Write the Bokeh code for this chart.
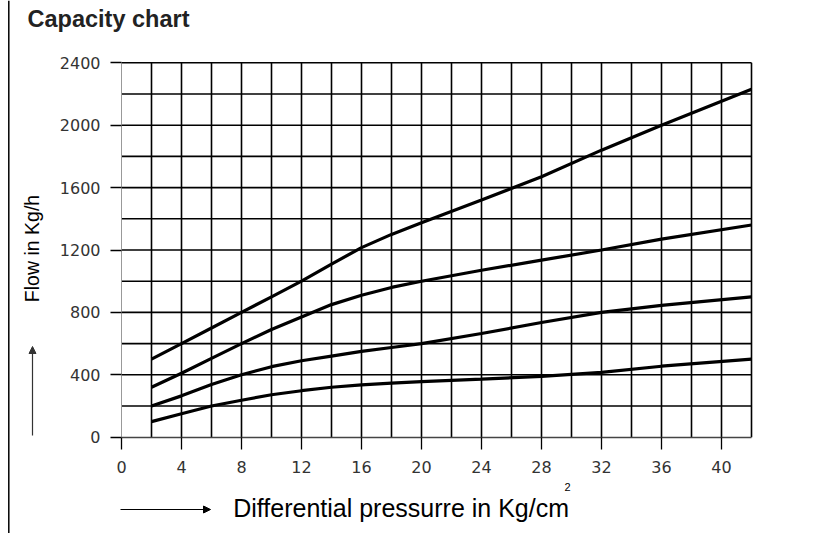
import math
from bokeh.plotting import figure
from bokeh.models import Range1d, FixedTicker, Label, Arrow, NormalHead, LinearAxis
from bokeh.embed import file_html
from bokeh.resources import INLINE

# ---- data ----
x_vals = [2, 4, 6, 8, 10, 12, 14, 16, 18, 20, 24, 28, 32, 36, 42]
flow_1 = [500, 600, 700, 800, 900, 1000, 1110, 1215, 1300, 1375, 1520, 1670, 1840, 2000, 2230]
flow_2 = [320, 410, 505, 600, 690, 770, 850, 910, 960, 1000, 1070, 1135, 1200, 1270, 1360]
flow_3 = [200, 265, 338, 400, 452, 490, 520, 550, 575, 600, 665, 735, 800, 845, 900]
flow_4 = [100, 150, 200, 237, 272, 298, 320, 336, 347, 356, 372, 390, 415, 455, 500]

x_ticks = [0, 4, 8, 12, 16, 20, 24, 28, 32, 36, 40]
y_ticks = [0, 400, 800, 1200, 1600, 2000, 2400]
x_grid = list(range(2, 44, 2))
y_grid = list(range(200, 2600, 200))
x_max = 42
y_max = 2400

title_text = "Capacity chart"
x_label = "Differential pressurre in Kg/cm"
x_label_sup = "2"
y_label = "Flow in Kg/h"

# canvas geometry: the data frame covers the whole canvas
W, H = 827, 533
px_per_x = 15.0
px_per_y = 62.4 / 400.0
x0_px, y0_px = 121.0, 436.7
xr = Range1d(-x0_px / px_per_x, (W - x0_px) / px_per_x)
yr = Range1d(-(H - y0_px) / px_per_y, y0_px / px_per_y)

def dx(px):
    return (px - x0_px) / px_per_x

def dy(py):
    return (y0_px - py) / px_per_y

p = figure(width=W, height=H, output_backend="svg", toolbar_location=None,
           x_range=xr, y_range=yr, x_axis_type=None, y_axis_type=None,
           min_border=0)
p.outline_line_color = None
p.background_fill_color = "white"
p.border_fill_color = "white"
p.xgrid.visible = False
p.ygrid.visible = False

# grid lines
p.segment(x0=x_grid, y0=[0] * len(x_grid), x1=x_grid, y1=[y_max] * len(x_grid),
          line_color="black", line_width=1.6)
p.segment(x0=[0] * len(y_grid), y0=y_grid, x1=[x_max] * len(y_grid), y1=y_grid,
          line_color="black", line_width=1.6)

# axes fixed at the chart origin
xaxis = LinearAxis(fixed_location=0, bounds=(0, x_max), ticker=FixedTicker(ticks=x_ticks))
yaxis = LinearAxis(fixed_location=0, bounds=(0, y_max), ticker=FixedTicker(ticks=y_ticks))
xaxis.major_tick_out = 12
yaxis.major_tick_out = 11
xaxis.major_label_standoff = 12
yaxis.major_label_standoff = 10
for ax in (xaxis, yaxis):
    ax.major_tick_in = 0
    ax.minor_tick_line_color = None
    ax.major_tick_line_color = "black"
    ax.major_tick_line_width = 1.3
    ax.major_label_text_font = "DejaVu Sans"
    ax.major_label_text_font_size = "16px"
    ax.major_label_text_color = "#333333"
xaxis.axis_line_color = "#444444"
xaxis.axis_line_width = 1.6
yaxis.axis_line_color = "#999999"
yaxis.axis_line_width = 1.0
p.add_layout(xaxis, "below")
p.add_layout(yaxis, "left")

# curves
for ys in (flow_1, flow_2, flow_3, flow_4):
    p.line(x_vals, ys, line_color="black", line_width=3.2)

# title
p.add_layout(Label(x=dx(27), y=dy(18.5), text=title_text, text_font="Liberation Sans",
                   text_font_style="bold", text_font_size="23.5px", text_color="#222222",
                   text_align="left", text_baseline="middle"))

# y label and arrow
p.add_layout(Label(x=dx(31), y=dy(248), text=y_label, angle=math.pi / 2,
                   text_font="Liberation Sans", text_font_size="19.5px", text_color="black",
                   text_align="center", text_baseline="middle"))
p.add_layout(Arrow(x_start=dx(32), y_start=dy(435), x_end=dx(32), y_end=dy(346),
                   line_color="#333333", line_width=1.2,
                   end=NormalHead(size=7, fill_color="#333333", line_color="#333333")))

# x label and arrow
p.add_layout(Label(x=dx(232.7), y=dy(507.5), text=x_label,
                   text_font="Liberation Sans", text_font_size="25px", text_color="black",
                   text_align="left", text_baseline="middle"))
p.add_layout(Label(x=dx(564), y=dy(486), text=x_label_sup,
                   text_font="Liberation Sans", text_font_size="11px", text_color="black",
                   text_align="left", text_baseline="middle"))
p.add_layout(Arrow(x_start=dx(120), y_start=dy(509), x_end=dx(210), y_end=dy(509),
                   line_color="black", line_width=1.2,
                   end=NormalHead(size=7, fill_color="black", line_color="black")))

# left page border
p.segment(x0=[dx(8.3)], y0=[dy(0)], x1=[dx(8.3)], y1=[dy(H)], line_color="black", line_width=1.5)

open("out.html", "w").write(file_html(p, INLINE))
